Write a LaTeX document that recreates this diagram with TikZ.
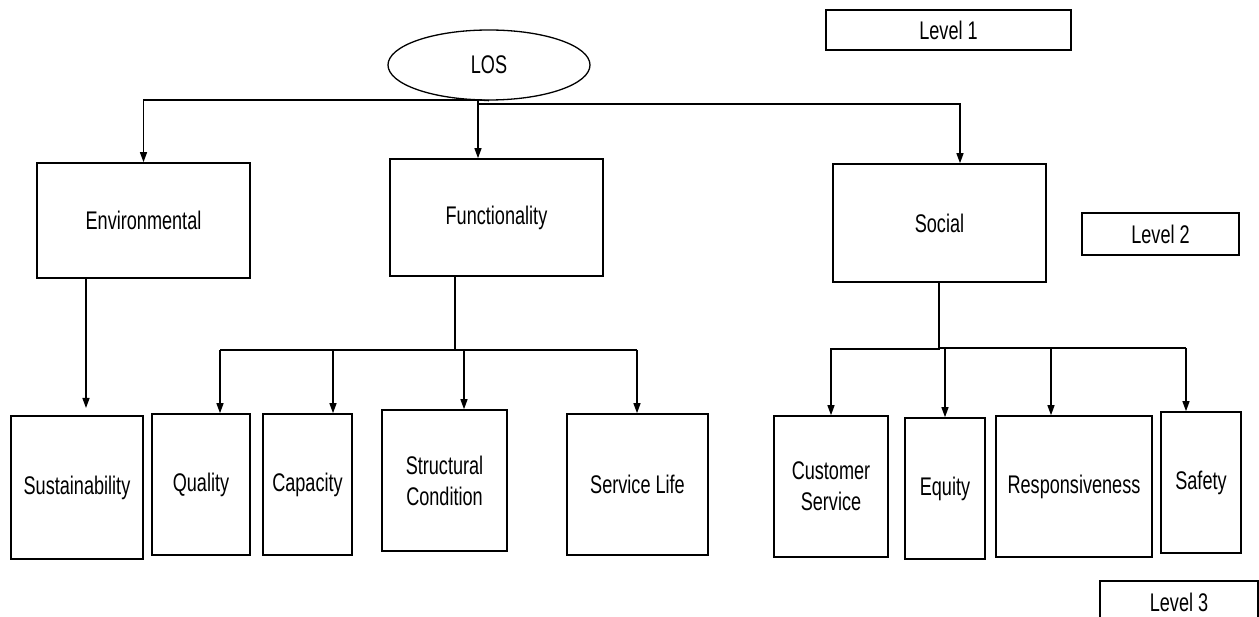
\documentclass[tikz,border=0pt]{standalone}
\usepackage{fontspec}
\setmainfont{Liberation Sans}[FakeStretch=0.71]
\usetikzlibrary{arrows.meta,shapes.geometric}
\begin{document}
\begin{tikzpicture}[x=1pt,y=-1pt,
  font=\fontsize{25.5}{31}\selectfont,
  box/.style={draw,line width=1.6pt,inner sep=0pt,align=center},
  oval/.style={draw,ellipse,line width=1.3pt,inner sep=0pt},
  ln/.style={line width=1.3pt},
  arr/.style={line width=1.3pt,-{Triangle[width=7pt,length=10pt]}}]
\useasboundingbox (0,0) rectangle (1259,617);
\clip (0,0) rectangle (1259,617);
\fill[white] (0,0) rectangle (1259,617);
% level 1
\node[oval,minimum width=202,minimum height=70] (los) at (489,65) {LOS};
\node[box,minimum width=245,minimum height=40] (lvl1) at (948.5,30) {Level 1};
% level 2
\node[box,minimum width=213,minimum height=115] (env) at (143.5,220.5) {Environmental};
\node[box,minimum width=213,minimum height=117] (func) at (496.5,217.5) {Functionality};
\node[box,minimum width=213,minimum height=118] (social) at (939.5,223) {Social};
\node[box,minimum width=157,minimum height=42] (lvl2) at (1160.5,234) {Level 2};
% level 3
\node[box,minimum width=132,minimum height=143] (sust) at (77,487.5) {Sustainability};
\node[box,minimum width=98,minimum height=141] (qual) at (201,484.5) {Quality};
\node[box,minimum width=89,minimum height=141] (cap) at (307.5,484.5) {Capacity};
\node[box,minimum width=125,minimum height=141] (struct) at (444.5,480.5) {Structural\\Condition};
\node[box,minimum width=141,minimum height=141] (serv) at (637.5,484.5) {Service Life};
\node[box,minimum width=114,minimum height=141] (cust) at (831,486.5) {Customer\\Service};
\node[box,minimum width=80,minimum height=141] (equity) at (945,488.5) {Equity};
\node[box,minimum width=156,minimum height=141] (resp) at (1074,486.5) {Responsiveness};
\node[box,minimum width=80,minimum height=141] (safety) at (1201,482.5) {Safety};
\node[box,minimum width=158,minimum height=42] (lvl3) at (1179,602) {Level 3};
% connectors from LOS
\coordinate (j1) at (478,100);
\coordinate (j2) at (478,104);
\coordinate (s1) at (960,104);
\draw[ln] (los.south) -- (j1);
\draw[arr] (j1) -| (env.north);
\draw[arr] (j1) -- (j1 |- func.north);
\draw[arr] (j2) -- (s1) -- (s1 |- social.north);
% environmental
\coordinate (ed) at (86,408);
\draw[arr] (ed |- env.south) -- (ed);
% functionality
\coordinate (fb) at (455,350);
\coordinate (fq) at (220,350);
\coordinate (fc) at (333,350);
\coordinate (fs) at (464,350);
\coordinate (fl) at (637,350);
\draw[ln] (fb |- func.south) -- (fb);
\draw[ln] (fq) -- (fl);
\draw[arr] (fq) -- (fq |- qual.north);
\draw[arr] (fc) -- (fc |- cap.north);
\draw[arr] (fs) -- (fs |- struct.north);
\draw[arr] (fl) -- (fl |- serv.north);
% social
\coordinate (sb) at (939,349);
\coordinate (sr0) at (939,348);
\coordinate (sr1) at (1186,348);
\coordinate (sr2) at (1051,348);
\draw[arr] (sb |- social.south) -- (sb) -| (cust.north);
\draw[ln] (sr0) -- (sr1);
\draw[arr] (equity.north |- sr0) -- (equity.north);
\draw[arr] (sr2) -- (sr2 |- resp.north);
\draw[arr] (sr1) -- (sr1 |- safety.north);
\end{tikzpicture}
\end{document}
